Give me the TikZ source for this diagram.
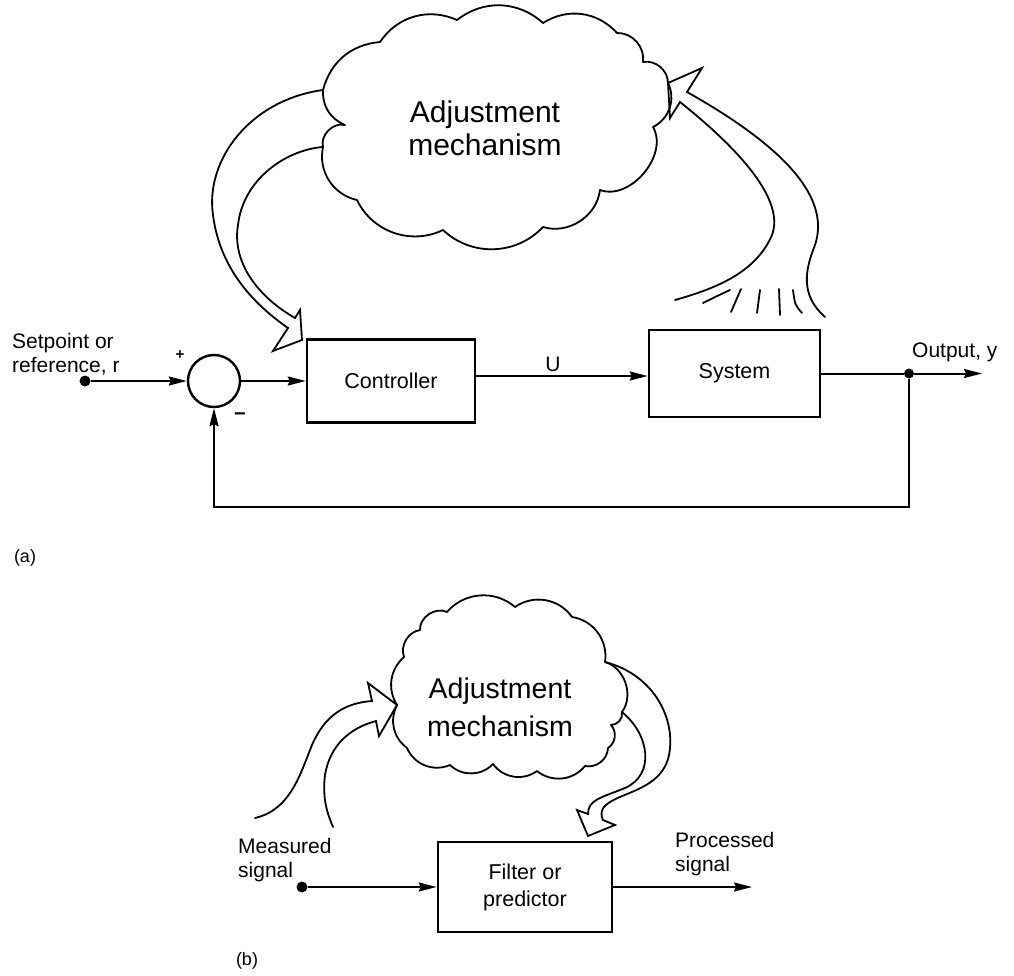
\documentclass[tikz,border=0pt]{standalone}
\usepackage{fontspec}
\setmainfont{Liberation Sans}
\usetikzlibrary{arrows.meta,calc}
\begin{document}
\begin{tikzpicture}[x=1pt,y=-1pt,
  blk/.style={draw, line width=2.6pt, inner sep=0pt, align=center, font=\fontsize{21.5}{27}\selectfont},
  lbl/.style={inner sep=0pt, font=\fontsize{21}{24}\selectfont},
  cloudtxt/.style={inner sep=0pt, align=center},
  sig/.style={line width=2pt},
  arr/.style={-{Stealth[length=18pt,width=9pt,inset=2pt]}},
  cloudline/.style={line width=1.8pt, line join=round, line cap=round},
  hollow/.style={line width=1.8pt, line join=miter, line cap=round},
  dot/.style={circle, fill, inner sep=0pt, minimum size=11pt},
  ]
\useasboundingbox (0,0) rectangle (1014,976);

% ---------------- (a) ----------------
\node[circle, draw, line width=2.4pt, minimum size=52pt, inner sep=0pt] (sum) at (214,381) {};
\node[dot] (rdot) at (85,381) {};
\node[blk, minimum width=168pt, minimum height=83pt] (ctrl) at (391,381) {Controller};
\node[blk, minimum width=171pt, minimum height=87pt] (sys) at (734.5,373.5) {System};
\node[dot, minimum size=10pt] (ydot) at (909,373.5) {};
\coordinate (yend) at (982,373.5);
\coordinate (fbc) at (214,507);
\path (sys.west) ++(0,2.5) coordinate (uin);

\draw[sig, arr] (rdot) -- (sum);
\draw[sig, arr] (sum) -- (ctrl);
\draw[sig, arr] (ctrl.east |- uin) -- (uin);
\draw[sig] (sys.east) -- (ydot);
\draw[sig, arr] (ydot) -- (yend);
\draw[sig, arr] (ydot) |- (fbc) -- (sum);

\node[lbl, anchor=north west, align=left] (rlab) at (12,333.5) {Setpoint or\\reference, r};
\node[inner sep=0pt, font=\bfseries\fontsize{15}{15}\selectfont] (plus) at (180,355) {+};
\node[inner sep=0pt, font=\bfseries\fontsize{20}{20}\selectfont] (minus) at (240,417) {−};
\node[lbl, anchor=base] (ulab) at (553,371) {U};
\node[lbl, anchor=base west] (ylab) at (912,357) {Output, y};
\node[inner sep=0pt, font=\fontsize{18}{18}\selectfont] (alab) at (25,558) {(a)};

% top cloud
\coordinate (tc1) at (323,90);
\coordinate (tc7) at (668,83);
\coordinate (tc13) at (323,147);
\draw[cloudline] (tc1) to[bend left=35] (380,42) to[bend left=40] (457,20)
  to[bend left=40] (543,23) to[bend left=40] (617,33) to[bend left=50] (643,62)
  to[bend left=50] (tc7) to[bend left=45] (653,127) to[bend left=70] (600,190)
  to[bend left=50] (543,227) to[bend left=45] (443,230) to[bend left=45] (357,200)
  to[bend left=45] (tc13) to[bend left=60] (345,125) to[bend left=35] (tc1);
\node[cloudtxt, font=\fontsize{30}{33}\selectfont] (adj1) at (485,128) {Adjustment\\mechanism};

% hollow arrow: cloud -> controller
\draw[hollow] (tc1) .. controls (250,100) and (205,160) .. (213,215)
  .. controls (220,270) and (255,305) .. (288,328) -- (273,351) -- (302,340)
  -- (300,310) -- (295,318) .. controls (255,295) and (232,260) .. (238,225)
  .. controls (243,180) and (285,150) .. (tc13);

% hollow arrow: system -> cloud
\draw[hollow] (825,317) .. controls (800,295) and (805,270) .. (815,245)
  .. controls (830,200) and (790,150) .. (687,92) -- (702,68) -- (tc7)
  -- (670,118) -- (680,102) .. controls (740,150) and (785,200) .. (772,235)
  .. controls (755,275) and (710,290) .. (675,300);
\draw[hollow] (703,303) .. controls (715,297) .. (730,290);
\draw[hollow] (731,312) -- (741,289);
\draw[hollow] (757,313) -- (760,290);
\draw[hollow] (780,315) -- (779,289);
\draw[hollow] (802,313) .. controls (795,305) .. (793,290);

% ---------------- (b) ----------------
\node[blk, minimum width=174pt, minimum height=90pt] (filt) at (525,887) {Filter or\\predictor};
\node[dot] (mdot) at (302,887) {};
\coordinate (pend) at (752,887);
\draw[sig, arr] (mdot) -- (filt);
\draw[sig, arr] (filt) -- (pend);
\node[lbl, anchor=north west, align=left] (mlab) at (238,838.5) {Measured\\signal};
\node[lbl, anchor=north west, align=left] (plab) at (675,832.5) {Processed\\signal};
\node[inner sep=0pt, font=\fontsize{18}{18}\selectfont] (blab) at (247,961) {(b)};

% bottom cloud
\coordinate (bc1) at (397,705);
\coordinate (bc7) at (605,662);
\coordinate (bc8) at (622,712);
\draw[cloudline] (bc1) to[bend left=40] (404,657) to[bend left=50] (420,630)
  to[bend left=60] (447,612) to[bend left=45] (515,607) to[bend left=45] (572,617)
  to[bend left=45] (bc7) to[bend left=55] (bc8) to[bend left=50] (611,725)
  to[bend left=50] (608,748) to[bend left=50] (585,766) to[bend left=45] (537,771)
  to[bend left=45] (493,764) to[bend left=45] (450,765) to[bend left=45] (407,748)
  to[bend left=40] (bc1);
\node[cloudtxt, font=\fontsize{28.5}{38}\selectfont] (adj2) at (500,707) {Adjustment\\mechanism};

% hollow arrow: cloud -> filter
\draw[hollow] (bc7) .. controls (655,675) and (676,720) .. (669,755)
  .. controls (662,790) and (620,792) .. (606,805)
  .. controls (600,810) and (601,816) .. (603,820) -- (615,825) -- (588,836)
  -- (577,810) -- (588,814) .. controls (588,800) and (600,798) .. (625,788)
  .. controls (655,775) and (650,735) .. (bc8);

% hollow arrow: measured signal -> cloud
\draw[hollow] (255,818) .. controls (290,810) and (300,775) .. (312,745)
  .. controls (325,715) and (345,703) .. (372,701) -- (368,683) -- (bc1)
  -- (379,736) -- (376,721) .. controls (350,728) and (330,745) .. (325,775)
  .. controls (322,800) and (328,815) .. (333,827);
\end{tikzpicture}
\end{document}
